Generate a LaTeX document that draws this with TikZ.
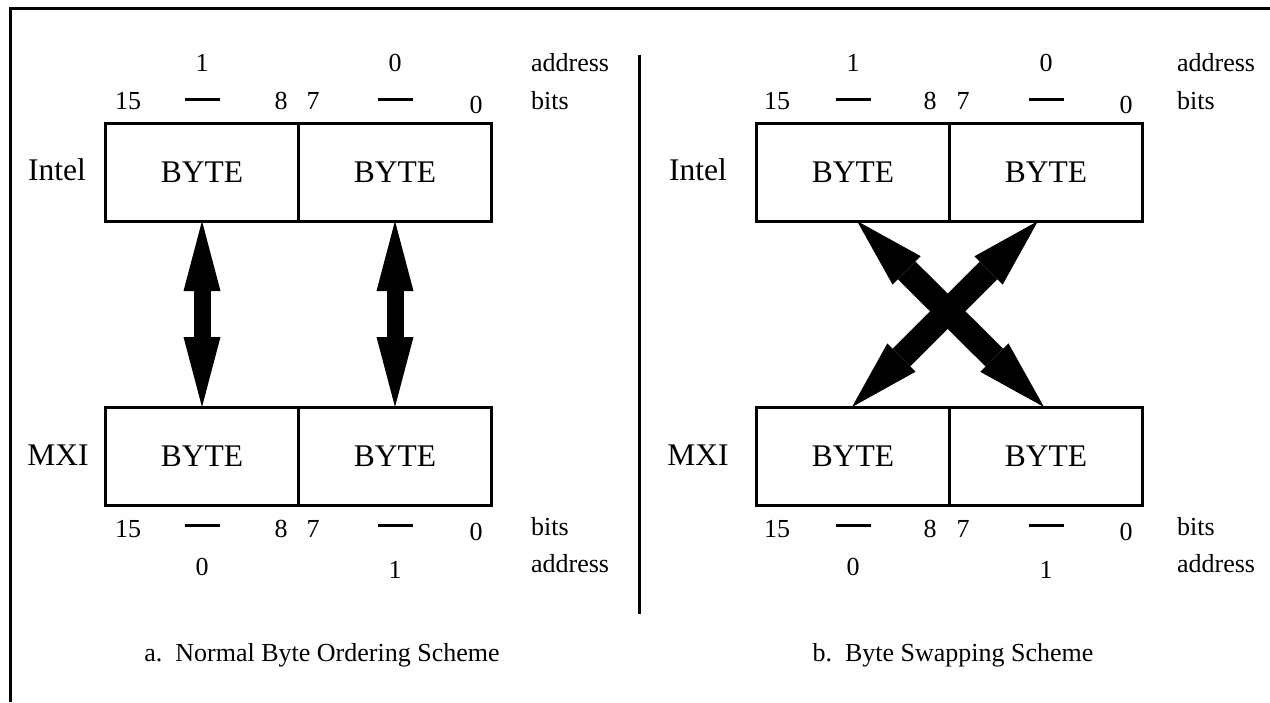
\documentclass[tikz,border=0pt]{standalone}
\usepackage{fontspec}
\setmainfont{Liberation Serif}
\usetikzlibrary{arrows.meta, positioning}

\begin{document}
\begin{tikzpicture}[x=0.5pt, y=-0.5pt,
  every node/.style={font=\fontsize{13}{16}\selectfont},
  bigtext/.style={font=\fontsize{15.75}{19}\selectfont},
  cell/.style={bigtext, draw, line width=1.5pt, rectangle, minimum width=96.5pt, minimum height=49pt, outer sep=0pt, inner sep=0pt},
  dashbar/.style={fill=black, rectangle, minimum width=17.5pt, minimum height=1.5pt, inner sep=0pt, outer sep=0pt},
  fatarrow/.style={line width=8.5pt, {Triangle[length=35pt,width=18.5pt,line width=0pt]}-{Triangle[length=35pt,width=18.5pt,line width=0pt]}},
  crossarrow/.style={line width=12.5pt, {Triangle[length=35pt,width=20pt,line width=0pt]}-{Triangle[length=35pt,width=20pt,line width=0pt]}}]

  \useasboundingbox (0,0) rectangle (1270,702);
  \draw[line width=1.5pt] (10,702) -- (10,8) -- (1270,8);
  \draw[line width=1.5pt] (639,55) -- (639,614);

  % a. normal byte ordering
  \node[cell] (ihiA) at (202,172) {BYTE};
  \node[cell, right=0pt of ihiA] (iloA) {BYTE};
  \node[cell] (mhiA) at (202,456) {BYTE};
  \node[cell, right=0pt of mhiA] (mloA) {BYTE};
  \node[bigtext] (intelA) at (57,170) {Intel};
  \node[bigtext] (mxiA) at (58,455) {MXI};

  \node (tadA1) at (202,63) {1};
  \node (tadA0) at (395,63) {0};
  \node[anchor=west] (tadA) at (524,63) {address};
  \node (tbA15) at (128,101) {15};
  \node[dashbar] (tdA1) at (202,99) {};
  \node (tbA8) at (281,101) {8};
  \node (tbA7) at (313,101) {7};
  \node[dashbar] (tdA0) at (395,99) {};
  \node (tbA0) at (476,105) {0};
  \node[anchor=west] (tbA) at (524,101) {bits};

  \node (bbA15) at (128,529) {15};
  \node[dashbar] (bdA1) at (202,525) {};
  \node (bbA8) at (281,529) {8};
  \node (bbA7) at (313,529) {7};
  \node[dashbar] (bdA0) at (395,525) {};
  \node (bbA0) at (476,532) {0};
  \node[anchor=west] (bbA) at (524,527) {bits};
  \node (badA0) at (202,567) {0};
  \node (badA1) at (395,570) {1};
  \node[anchor=west] (badA) at (524,564) {address};

  \draw[fatarrow] (ihiA.south) -- (mhiA.north);
  \draw[fatarrow] (iloA.south) -- (mloA.north);

  \node (capA) at (322,655) {a.\ \ Normal Byte Ordering Scheme};

  % b. byte swapping
  \node[cell] (ihiB) at (853,172) {BYTE};
  \node[cell, right=0pt of ihiB] (iloB) {BYTE};
  \node[cell] (mhiB) at (853,456) {BYTE};
  \node[cell, right=0pt of mhiB] (mloB) {BYTE};
  \node[bigtext] (intelB) at (698,170) {Intel};
  \node[bigtext] (mxiB) at (698,455) {MXI};

  \node (tadB1) at (853,63) {1};
  \node (tadB0) at (1046,63) {0};
  \node[anchor=west] (tadB) at (1170,63) {address};
  \node (tbB15) at (777,101) {15};
  \node[dashbar] (tdB1) at (853,99) {};
  \node (tbB8) at (930,101) {8};
  \node (tbB7) at (963,101) {7};
  \node[dashbar] (tdB0) at (1046,99) {};
  \node (tbB0) at (1126,105) {0};
  \node[anchor=west] (tbB) at (1170,101) {bits};

  \node (bbB15) at (777,529) {15};
  \node[dashbar] (bdB1) at (853,525) {};
  \node (bbB8) at (930,529) {8};
  \node (bbB7) at (963,529) {7};
  \node[dashbar] (bdB0) at (1046,525) {};
  \node (bbB0) at (1126,532) {0};
  \node[anchor=west] (bbB) at (1170,527) {bits};
  \node (badB0) at (853,567) {0};
  \node (badB1) at (1046,570) {1};
  \node[anchor=west] (badB) at (1170,564) {address};

  \draw[crossarrow] ([xshift=2pt]ihiB.south) -- ([xshift=-1pt]mloB.north);
  \draw[crossarrow] ([xshift=-4pt]iloB.south) -- ([xshift=-0.5pt]mhiB.north);

  \node (capB) at (953,655) {b.\ \ Byte Swapping Scheme};
\end{tikzpicture}
\end{document}
